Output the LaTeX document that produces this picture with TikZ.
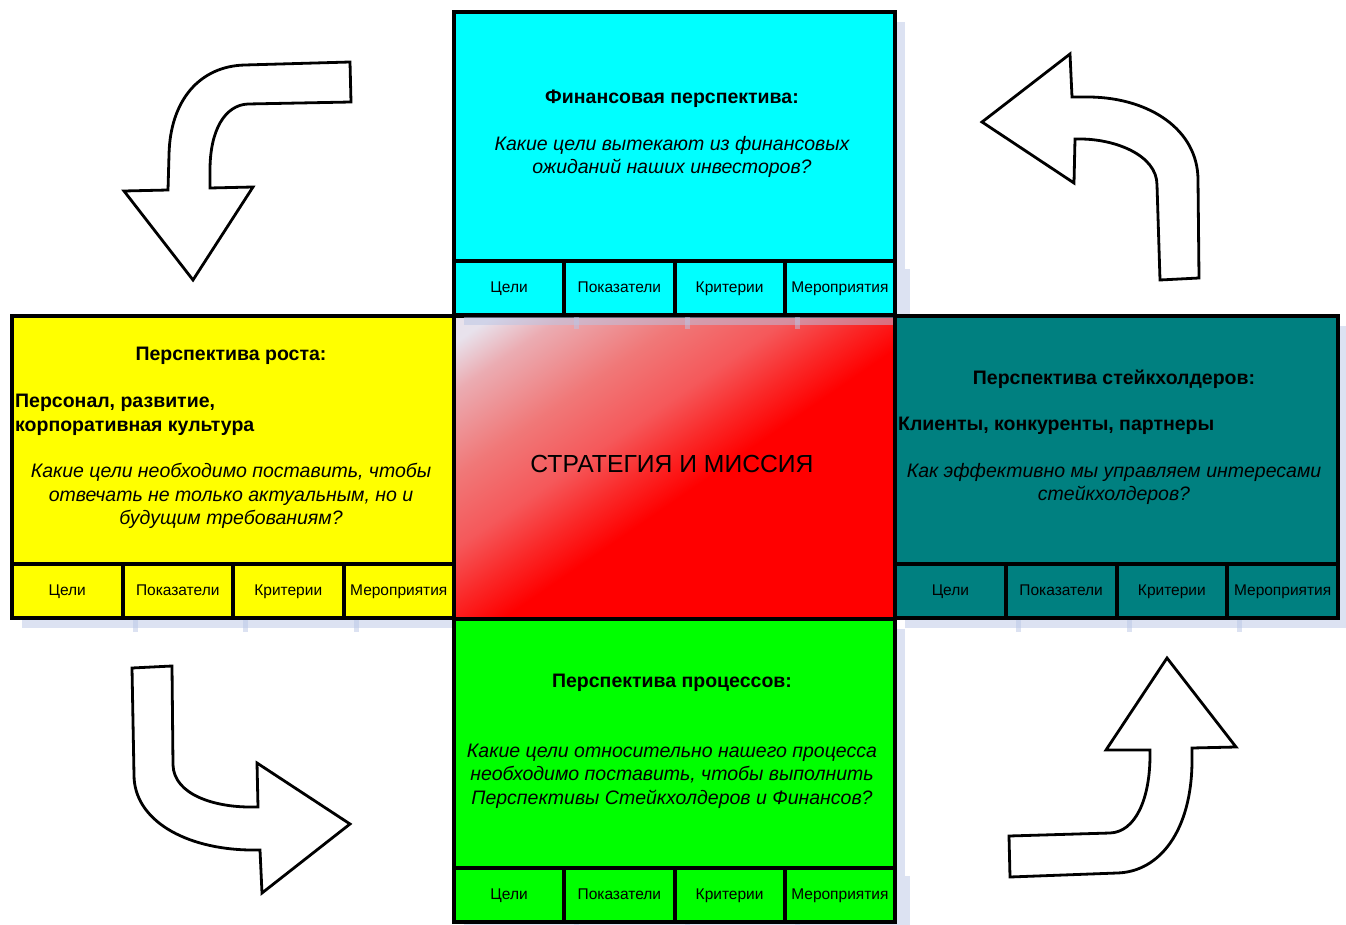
\documentclass[tikz,border=0pt]{standalone}
\usepackage{fontspec}
\setmainfont{Liberation Sans}
\usetikzlibrary{shadows}
\definecolor{fincyan}{RGB}{0,255,255}
\definecolor{growyellow}{RGB}{255,255,0}
\definecolor{stakteal}{RGB}{0,128,128}
\definecolor{procgreen}{RGB}{0,255,0}
\definecolor{shadowblue}{RGB}{185,198,230}
\definecolor{pinkwhite}{RGB}{232,226,236}
\definecolor{pinkpale}{RGB}{235,172,178}
\definecolor{pinkmid}{RGB}{240,120,120}
\definecolor{pinkred}{RGB}{245,88,90}
\definecolor{hotred}{RGB}{250,40,40}
% linear ramp; 25bp..75bp is the span of the shaded rectangle
\pgfdeclarehorizontalshading{stratfill}{100bp}{%
  color(0bp)=(pinkwhite); color(27.5bp)=(pinkwhite); color(31.5bp)=(pinkpale);
  color(38.5bp)=(pinkmid); color(44.5bp)=(pinkred); color(49bp)=(hotred);
  color(53bp)=(red); color(100bp)=(red)}
\tikzset{
  blockshadow/.style={drop shadow={shadow xshift=10pt, shadow yshift=-10pt,
      fill=shadowblue, opacity=0.5}},
  edgeshadow/.style={fill=shadowblue, opacity=0.5},
  panel/.style={draw=black, line width=4pt, anchor=north west, inner sep=0pt,
      minimum width=441pt, blockshadow},
  cell/.style={draw=black, line width=4pt, anchor=north west, inner sep=0pt,
      minimum width=110.25pt, minimum height=54pt, blockshadow,
      text height=11.5pt, text depth=3.5pt,
      font=\fontsize{15.5}{18}\selectfont},
  heading/.style={font=\fontsize{19.5}{23.5}\selectfont\bfseries, inner sep=0pt},
  question/.style={font=\fontsize{19.5}{23.5}\selectfont\itshape, align=center, inner sep=0pt},
  bendarrow/.style={fill=white, draw=black, line width=2.8pt, line join=miter},
}
% a row of four cells under a panel, each casting a shadow of its right border
\newcommand{\cellrow}[5]{% prefix, x0, y0, width, colour
  \foreach \i/\t in {0/Цели,1/Показатели,2/Критерии,3/Мероприятия}{
    \node[cell, fill=#5, minimum width=#4pt] (#1\i) at (#2+\i*#4,#3) {\t};
    \fill[edgeshadow] ([shift={(8,10)}]#1\i.north east) rectangle ([shift={(13,12)}]#1\i.south east);
  }}
\begin{document}
\begin{tikzpicture}[x=1pt, y=-1pt]
\useasboundingbox (0,0) rectangle (1346,925);

% growth perspective (left)
\node[panel, fill=growyellow, minimum width=442pt, minimum height=248pt] (grow) at (10,314) {};
\cellrow{grow}{10}{562}{110.5}{growyellow}
\node[heading] (growtitle) at (231,356) {Перспектива роста:};
\node[heading, align=left, anchor=west] (growsub) at (15,415) {Персонал, развитие,\\корпоративная культура};
\node[question] (growq) at (231,496) {Какие цели необходимо поставить, чтобы\\отвечать не только актуальным, но и\\будущим требованиям?};

% centre: strategy and mission, shaded along the box diagonal
% (the ramp is laid on a skewed square so its bands run parallel to the other diagonal)
\begin{scope}
  \clip (452,314) rectangle (893,617);
  \shade[shading=stratfill,
         transform canvas={cm={4.41,-3.03,-4.41,-3.03,(231.5pt,-465.5pt)}}]
    (0,0) rectangle (100,100);
\end{scope}
\node[draw=black, line width=4pt, anchor=north west, inner sep=0pt,
      minimum width=441pt, minimum height=303pt] (core) at (452,314) {};
\node[font=\fontsize{24.7}{28}\selectfont] (coretext) at (672,464) {СТРАТЕГИЯ И МИССИЯ};

% financial perspective (top)
\node[panel, fill=fincyan, minimum height=249pt] (fin) at (452,10) {};
\cellrow{fin}{452}{259}{110.25}{fincyan}
\node[heading] (fintitle) at (672,99) {Финансовая перспектива:};
\node[question] (finq) at (672,157) {Какие цели вытекают из финансовых\\ожиданий наших инвесторов?};

% stakeholder perspective (right)
\node[panel, fill=stakteal, minimum width=443pt, minimum height=248pt] (stake) at (893,314) {};
\cellrow{stake}{893}{562}{110.75}{stakteal}
\node[heading] (staketitle) at (1114,379) {Перспектива стейкхолдеров:};
\node[heading, anchor=west] (stakesub) at (898,426) {Клиенты, конкуренты, партнеры};
\node[question] (stakeq) at (1114,484) {Как эффективно мы управляем интересами\\стейкхолдеров?};

% process perspective (bottom)
\node[panel, fill=procgreen, minimum height=249pt] (proc) at (452,617) {};
\cellrow{proc}{452}{866}{110.25}{procgreen}
\node[heading] (proctitle) at (672,683) {Перспектива процессов:};
\node[question] (procq) at (672,776) {Какие цели относительно нашего процесса\\необходимо поставить, чтобы выполнить\\Перспективы Стейкхолдеров и Финансов?};

% curved block arrows circling the scheme
\draw[bendarrow] (168,190) -- (169,155) .. controls (170,100) and (200,66) .. (245,65)
  -- (350,62) -- (351,102) -- (248,104) .. controls (225,105) and (210,130) .. (210,170)
  -- (210,188) -- (253,187) -- (193,280) -- (124,191) -- cycle;
\draw[bendarrow] (1072,97) -- (1090,97) .. controls (1150,98) and (1198,130) .. (1198,180)
  -- (1199,278) -- (1160,280) -- (1157,185) .. controls (1157,155) and (1115,139) .. (1080,139)
  -- (1075,139) -- (1074,183) -- (982,122) -- (1070,54) -- cycle;
\draw[bendarrow] (132,668) -- (172,666) -- (173,765) .. controls (174,795) and (215,807) .. (250,807)
  -- (258,807) -- (257,763) -- (350,824) -- (262,893) -- (260,850) -- (250,850)
  .. controls (185,849) and (134,820) .. (134,775) -- cycle;
\draw[bendarrow] (1010,877) -- (1009,836) -- (1110,833) .. controls (1135,832) and (1150,800) .. (1150,755)
  -- (1150,750) -- (1106,750) -- (1167,658) -- (1236,747) -- (1192,748) -- (1192,760)
  .. controls (1192,830) and (1160,872) .. (1117,873) -- cycle;
\end{tikzpicture}
\end{document}
